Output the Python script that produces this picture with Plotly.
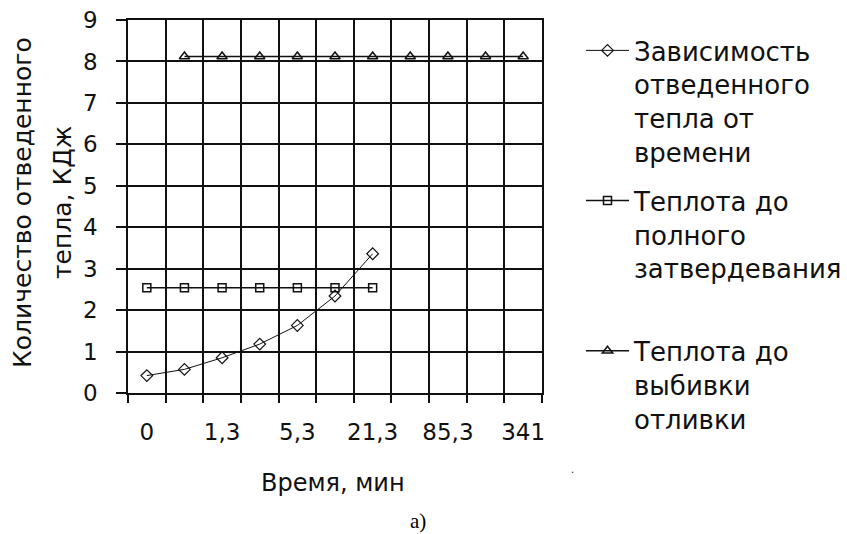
import plotly.graph_objects as go

# Categories (time, min) – every other one is labelled on the axis
categories = ["0", "0,7", "1,3", "2,7", "5,3", "10,7", "21,3", "42,7", "85,3", "170,7", "341"]
tick_labels = ["0", "1,3", "5,3", "21,3", "85,3", "341"]

heat_vs_time = [0.42, 0.57, 0.85, 1.18, 1.63, 2.34, 3.36]
heat_full_solid = [2.54, 2.54, 2.54, 2.54, 2.54, 2.54, 2.54]
heat_knockout = [8.12, 8.12, 8.12, 8.12, 8.12, 8.12, 8.12, 8.12, 8.12, 8.12]

names = [
    "Зависимость<br>отведенного<br>тепла от<br>времени",
    "Теплота до<br>полного<br>затвердевания<br>\u00a0",
    "Теплота до<br>выбивки<br>отливки",
]

idx = list(range(len(categories)))

fig = go.Figure()
fig.add_trace(go.Scatter(
    x=idx[:len(heat_vs_time)], y=heat_vs_time, name=names[0], legendgroup="a",
    mode="lines+markers", line=dict(color="#111", width=1),
    marker=dict(symbol="diamond-open", size=9, color="#111", line=dict(width=1.2)),
))
fig.add_trace(go.Scatter(
    x=idx[:len(heat_full_solid)], y=heat_full_solid, name=names[1], legendgroup="b",
    mode="lines+markers", line=dict(color="#111", width=1.5),
    marker=dict(symbol="square-open", size=8, color="#111", line=dict(width=1.5)),
))
fig.add_trace(go.Scatter(
    x=idx[1:1 + len(heat_knockout)], y=heat_knockout, name=names[2], legendgroup="c",
    mode="lines+markers", line=dict(color="#111", width=1.5),
    marker=dict(symbol="triangle-up-open", size=9, color="#111", line=dict(width=1.5)),
))

L, R, T, B = 128, 542, 20, 393
W, H = 847, 534

def px_x(p):
    return (p - L) / (R - L)

def px_y(p):
    return (B - p) / (B - T)

fig.update_layout(
    width=W, height=H,
    margin=dict(l=L, r=W - R, t=T, b=H - B, pad=0, autoexpand=False),
    paper_bgcolor="white", plot_bgcolor="white",
    font=dict(family="DejaVu Sans", color="#111"),
    showlegend=True,
    legend=dict(
        x=px_x(581), y=px_y(27), xanchor="left", yanchor="top",
        font=dict(family="DejaVu Sans", size=26, color="#111"),
        valign="top", tracegroupgap=12, itemwidth=43,
        bgcolor="rgba(0,0,0,0)", maxheight=600,
    ),
    xaxis=dict(
        range=[-0.5, len(categories) - 0.5],
        tickmode="array", tickvals=idx[::2], ticktext=tick_labels,
        ticks="", showgrid=False, zeroline=False,
        showline=True, mirror=True, linecolor="#111", linewidth=1.5,
        tickfont=dict(family="DejaVu Sans", size=23, color="#111"),
        ticklabelstandoff=18,
        minor=dict(tick0=-0.5, dtick=1, ticks="outside", ticklen=8,
                   tickcolor="#111", tickwidth=1.5,
                   showgrid=True, gridcolor="#111", gridwidth=1.5),
    ),
    yaxis=dict(
        range=[0, 9], dtick=1, tick0=0,
        ticks="outside", ticklen=10, tickcolor="#111", tickwidth=1.5,
        showgrid=True, gridcolor="#111", gridwidth=1.5, zeroline=False,
        showline=True, mirror=True, linecolor="#111", linewidth=1.5,
        tickfont=dict(family="DejaVu Sans", size=23, color="#111"),
        ticklabelstandoff=14,
    ),
    annotations=[
        dict(text="Количество отведенного", xref="paper", yref="paper",
             x=px_x(22), y=px_y(203), textangle=-90, showarrow=False,
             xanchor="center", yanchor="middle",
             font=dict(family="DejaVu Sans", size=25, color="#111")),
        dict(text="тепла, КДж", xref="paper", yref="paper",
             x=px_x(62), y=px_y(203), textangle=-90, showarrow=False,
             xanchor="center", yanchor="middle",
             font=dict(family="DejaVu Sans", size=25, color="#111")),
        dict(text="Время, мин", xref="paper", yref="paper",
             x=px_x(333), y=px_y(483), showarrow=False,
             xanchor="center", yanchor="middle",
             font=dict(family="DejaVu Sans", size=24, color="#111")),
        dict(text="а)", xref="paper", yref="paper",
             x=px_x(418), y=px_y(521), showarrow=False,
             xanchor="center", yanchor="middle",
             font=dict(family="Liberation Serif", size=21, color="#000")),
        dict(text=".", xref="paper", yref="paper",
             x=px_x(572), y=px_y(470), showarrow=False,
             xanchor="center", yanchor="middle",
             font=dict(family="DejaVu Sans", size=10, color="#111")),
    ],
)

fig.write_html("out.html")
